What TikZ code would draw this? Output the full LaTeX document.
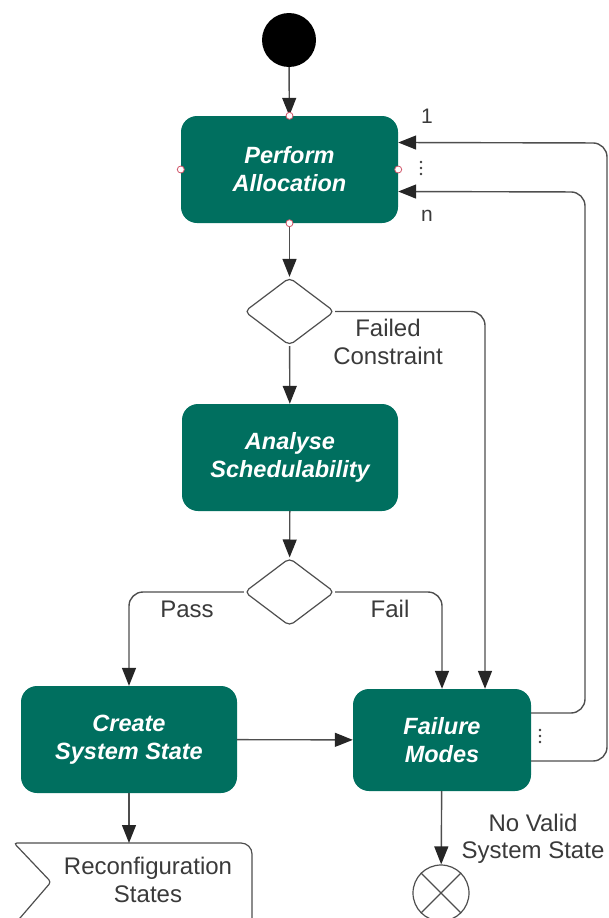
\documentclass[tikz,border=0pt]{standalone}
\usepackage{fontspec}
\setmainfont{Liberation Sans}
\usetikzlibrary{arrows.meta,shapes.geometric,calc}
\definecolor{boxteal}{HTML}{006F5F}
\definecolor{linegray}{HTML}{4E4E4E}
\definecolor{tipgray}{HTML}{262626}
\definecolor{labelgray}{HTML}{3A3A3A}
\definecolor{portred}{HTML}{D0566A}

\begin{document}
\begin{tikzpicture}[x=1pt,y=-1pt,
  line/.style={draw=linegray, line width=1.4pt},
  arr/.style={line, -{Triangle[length=18pt,width=14pt,color=tipgray]}},
  act/.style={rectangle, rounded corners=16pt, fill=boxteal, text=white,
    font=\fontsize{23.5}{28}\selectfont\bfseries\itshape, align=center, inner sep=0pt},
  dec/.style={diamond, draw=linegray, line width=1.2pt, rounded corners=5pt,
    minimum width=90pt, minimum height=68pt, inner sep=0pt, fill=white},
  lbl/.style={text=labelgray, font=\fontsize{24}{27.5}\selectfont, align=center, inner sep=0pt},
  port/.style={circle, draw=portred, fill=white, line width=0.8pt, inner sep=0pt, minimum size=7pt},
  dotmark/.style={fill=labelgray}
]
\useasboundingbox (0,0) rectangle (608,918);
\clip (0,0) rectangle (608,918);

% initial node
\node[circle, fill=black, minimum size=54pt, inner sep=0pt] (start) at (289,40) {};

% activities
\node[act, minimum width=217pt, minimum height=107pt] (pa) at (289.5,169.5) {Perform\\Allocation};
\node[act, minimum width=216pt, minimum height=107pt] (as) at (290,457.5) {Analyse\\Schedulability};
\node[act, minimum width=216pt, minimum height=107pt] (css) at (129,739.5) {Create\\System State};
\node[act, minimum width=178pt, minimum height=102pt] (fm) at (442,740) {Failure\\Modes};

% decisions
\node[dec] (d1) at (289.5,311.5) {};
\node[dec] (d2) at (289.5,592) {};

% final (flow end) node
\node[circle, line, line width=1.2pt, minimum size=56pt, inner sep=0pt] (stop) at (441,893) {};
\draw[line, line width=1.2pt] (stop.north west) -- (stop.south east)
  (stop.north east) -- (stop.south west);

% output signal: reconfiguration states
\coordinate (rtop) at (129,843);
\draw[line, line width=1.2pt] (14,925) [rounded corners=3pt] -- (51,882) -- (14,843)
  [rounded corners=11pt] -- (252,843) -- (252,930);
\node[lbl] (recon) at (148,880) {Reconfiguration\\States};

% main flow
\draw[arr] (start) -- (pa);
\draw[arr] (pa) -- (d1);
\draw[arr] (d1) -- (as);
\draw[arr] (as) -- (d2);
\draw[arr, rounded corners=14pt] (d1.east) -| ([xshift=43pt]fm.north);
\draw[arr, rounded corners=14pt] (d2.west) -| (css.north);
\draw[arr, rounded corners=14pt] (d2.east) -| (fm.north);
\draw[arr] (css) -- (fm);
\draw[arr] (fm) -- (stop);
\draw[arr] (css) -- (rtop);

% feedback loops
\coordinate (innerturn) at (585,192);
\coordinate (outerturn) at (607,143);
\draw[arr, rounded corners=14pt] ($(fm.east)+(0,-27)$) -| (innerturn) -- ($(pa.east)+(0,22)$);
\draw[arr, rounded corners=14pt] ($(fm.east)+(0,21)$) -| (outerturn) -- ($(pa.east)+(0,-27)$);

% connection points
\foreach \a in {north,south,east,west} \node[port] at (pa.\a) {};

% labels
\node[lbl] (lfail1) at (388,342) {Failed\\Constraint};
\node[lbl] (lpass) at (187,609) {Pass};
\node[lbl] (lfail2) at (390,609) {Fail};
\node[lbl] (lnovalid) at (533,839) {No Valid\\System State};
\node[lbl, font=\fontsize{21}{24}\selectfont] (lone) at (427,116) {1};
\node[lbl, font=\fontsize{21}{24}\selectfont] (ln) at (427,216) {n};

% ellipsis marks between the loop branches
\foreach \yy in {162,168,174} \fill[dotmark] (421,\yy) circle (1.3pt);
\foreach \yy in {730,736,742} \fill[dotmark] (540,\yy) circle (1.3pt);
\end{tikzpicture}
\end{document}
